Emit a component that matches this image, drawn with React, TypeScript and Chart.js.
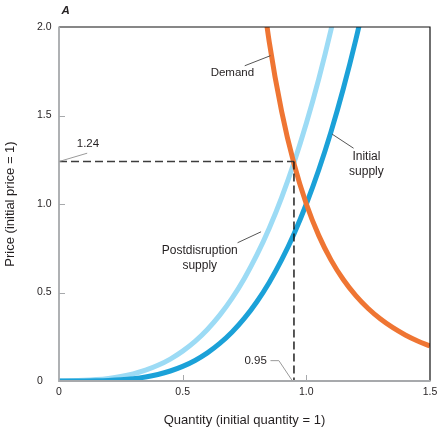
import React, { useEffect, useRef } from 'react';
import { Chart, registerables } from 'chart.js';

Chart.register(...registerables);

// ---------- data ----------
const supplyQuantity = [
  0, 0.05, 0.1, 0.15, 0.2, 0.25, 0.3, 0.35, 0.4, 0.45, 0.5, 0.55, 0.6, 0.65,
  0.7, 0.75, 0.8, 0.85, 0.9, 0.95, 1.0, 1.05, 1.1, 1.15, 1.2, 1.25,
];
const initialSupplyPrice = [
  0, 0.00002, 0.00025, 0.00108, 0.00304, 0.0068, 0.0131, 0.0228, 0.0369, 0.0565,
  0.0825, 0.1162, 0.159, 0.2121, 0.277, 0.355, 0.448, 0.557, 0.684, 0.831, 1.0,
  1.192, 1.409, 1.654, 1.928, 2.233,
];
const postSupplyQuantity = [
  0, 0.05, 0.1, 0.15, 0.2, 0.25, 0.3, 0.35, 0.4, 0.45, 0.5, 0.55, 0.6, 0.65,
  0.7, 0.75, 0.8, 0.85, 0.9, 0.95, 1.0, 1.05, 1.1, 1.15,
];
const postSupplyPrice = [
  0.00035, 0.00136, 0.00363, 0.00784, 0.0148, 0.0253, 0.0404, 0.0611, 0.0886,
  0.124, 0.1687, 0.224, 0.2914, 0.372, 0.4683, 0.581, 0.712, 0.863, 1.0365,
  1.233, 1.456, 1.706, 1.986, 2.298,
];
const demandQuantity = [
  0.8, 0.85, 0.9, 0.95, 1.0, 1.05, 1.1, 1.15, 1.2, 1.25, 1.3, 1.35, 1.4, 1.45, 1.5,
];
const demandPrice = [
  2.441, 1.916, 1.524, 1.228, 1.0, 0.8227, 0.683, 0.5718, 0.4823, 0.4096,
  0.3501, 0.3011, 0.2603, 0.2262, 0.1975,
];
const newEquilibriumQuantity = 0.95;
const newEquilibriumPrice = 1.24;
const quantityTicks = [0, 0.5, 1.0, 1.5];
const priceTicks = [0, 0.5, 1.0, 1.5, 2.0];
const quantityTickLabels = ['0', '0.5', '1.0', '1.5'];
const priceTickLabels = ['0', '0.5', '1.0', '1.5', '2.0'];
const panelLetter = 'A';
const xTitle = 'Quantity (initial quantity = 1)';
const yTitle = 'Price (initial price = 1)';
const demandLabel = ['Demand'];
const initialSupplyLabel = ['Initial', 'supply'];
const postSupplyLabel = ['Postdisruption', 'supply'];

const FONT = '"Liberation Sans", Arial, sans-serif';
const TEXT = '#231f20';
const AXIS_GRAY = '#a7a9ac';

const toPoints = (xs: number[], ys: number[]) => xs.map((x, i) => ({ x, y: ys[i] }));

const decorPlugin = {
  id: 'decor',
  afterDatasetsDraw(chart: any) {
    const { ctx, chartArea: a, scales } = chart;
    const px = (v: number) => scales.x.getPixelForValue(v);
    const py = (v: number) => scales.y.getPixelForValue(v);
    ctx.save();

    // inward tick marks
    ctx.strokeStyle = AXIS_GRAY;
    ctx.lineWidth = 1;
    ctx.beginPath();
    priceTicks.forEach((v) => {
      if (v <= priceTicks[0] || v >= priceTicks[priceTicks.length - 1]) return;
      const y = Math.round(py(v)) + 0.5;
      ctx.moveTo(a.left, y);
      ctx.lineTo(a.left + 6, y);
    });
    quantityTicks.forEach((v) => {
      if (v <= quantityTicks[0] || v >= quantityTicks[quantityTicks.length - 1]) return;
      const x = Math.round(px(v)) + 0.5;
      ctx.moveTo(x, a.bottom);
      ctx.lineTo(x, a.bottom - 6);
    });
    ctx.stroke();

    // frame: top/right black, left/bottom gray
    ctx.strokeStyle = '#111';
    ctx.lineWidth = 1.2;
    ctx.beginPath();
    ctx.moveTo(a.left, a.top);
    ctx.lineTo(a.right, a.top);
    ctx.lineTo(a.right, a.bottom);
    ctx.stroke();
    ctx.strokeStyle = AXIS_GRAY;
    ctx.lineWidth = 1.8;
    ctx.beginPath();
    ctx.moveTo(a.left, a.top - 0.6);
    ctx.lineTo(a.left, a.bottom);
    ctx.lineTo(a.right + 0.6, a.bottom);
    ctx.stroke();

    // leader lines
    const leader = (pts: number[][], color: string) => {
      ctx.strokeStyle = color;
      ctx.lineWidth = 1;
      ctx.beginPath();
      pts.forEach(([x, y], i) => (i ? ctx.lineTo(px(x), py(y)) : ctx.moveTo(px(x), py(y))));
      ctx.stroke();
    };
    leader([[0, newEquilibriumPrice], [0.114, 1.287]], '#9a9a9a');
    leader([[0.751, 1.781], [0.855, 1.838]], '#555');
    leader([[1.104, 1.395], [1.191, 1.315]], '#555');
    leader([[0.722, 0.781], [0.817, 0.843]], '#555');
    leader([[0.855, 0.115], [0.889, 0.115], [newEquilibriumQuantity - 0.007, 0.002]], '#9a9a9a');

    // labels
    ctx.fillStyle = TEXT;
    ctx.textAlign = 'center';
    ctx.textBaseline = 'middle';
    const label = (lines: string[], x: number, y: number, size: number, gap: number) => {
      ctx.font = `${size}px ${FONT}`;
      lines.forEach((t, i) => ctx.fillText(t, px(x), py(y) + i * gap));
    };
    label([String(newEquilibriumPrice)], 0.117, 1.341, 11.5, 0);
    label([String(newEquilibriumQuantity)], 0.795, 0.113, 11.5, 0);
    label(demandLabel, 0.701, 1.74, 11.5, 0);
    label(initialSupplyLabel, 1.243, 1.267, 12, 14.7);
    label(postSupplyLabel, 0.569, 0.734, 12, 14.7);

    // panel letter
    ctx.textAlign = 'left';
    ctx.textBaseline = 'alphabetic';
    ctx.font = `italic bold 11.5px ${FONT}`;
    ctx.fillText(panelLetter, a.left + 2.5, 13.5);

    // y axis title
    ctx.font = `13px ${FONT}`;
    ctx.textAlign = 'center';
    ctx.textBaseline = 'middle';
    ctx.translate(10, (a.top + a.bottom) / 2);
    ctx.rotate(-Math.PI / 2);
    ctx.fillText(yTitle, 0, 0);
    ctx.restore();
  },
};

function App() {
  const canvasRef = useRef<HTMLCanvasElement | null>(null);

  useEffect(() => {
    document.body.style.margin = '0';
    const canvas = canvasRef.current;
    if (!canvas) return;
    const chart = new Chart(canvas, {
      type: 'line',
      data: {
        datasets: [
          {
            label: 'equilibrium quantity',
            data: [
              { x: newEquilibriumQuantity, y: newEquilibriumPrice },
              { x: newEquilibriumQuantity, y: 0 },
            ],
            borderColor: '#111',
            borderWidth: 1.4,
            borderDash: [8, 4],
            pointRadius: 0,
          },
          {
            label: 'equilibrium price',
            data: [
              { x: 0, y: newEquilibriumPrice },
              { x: newEquilibriumQuantity, y: newEquilibriumPrice },
            ],
            borderColor: '#3d3d3d',
            borderWidth: 1.4,
            borderDash: [8, 4],
            pointRadius: 0,
          },
          {
            label: 'Demand',
            data: toPoints(demandQuantity, demandPrice),
            borderColor: '#ef7533',
            borderWidth: 5,
            pointRadius: 0,
            cubicInterpolationMode: 'monotone',
          },
          {
            label: 'Initial supply',
            data: toPoints(supplyQuantity, initialSupplyPrice),
            borderColor: '#1ba1d8',
            borderWidth: 5,
            pointRadius: 0,
            cubicInterpolationMode: 'monotone',
          },
          {
            label: 'Postdisruption supply',
            data: toPoints(postSupplyQuantity, postSupplyPrice),
            borderColor: '#9cdbf5',
            borderWidth: 5,
            pointRadius: 0,
            cubicInterpolationMode: 'monotone',
          },
        ],
      },
      options: {
        responsive: false,
        animation: false,
        events: [],
        layout: { padding: { left: 37, top: 27, right: 8, bottom: 0 } },
        plugins: { legend: { display: false }, tooltip: { enabled: false } },
        scales: {
          x: {
            type: 'linear',
            min: 0,
            max: 1.5,
            grid: { display: false, drawTicks: false },
            border: { display: false },
            afterBuildTicks: (s: any) => {
              s.ticks = quantityTicks.map((value) => ({ value }));
            },
            afterFit: (s: any) => {
              s.height = 50;
              s.paddingLeft = 0;
              s.paddingRight = 0;
            },
            ticks: {
              padding: 5,
              color: TEXT,
              font: { family: FONT, size: 10.5 },
              maxRotation: 0,
              autoSkip: false,
              callback: (_v: any, i: number) => quantityTickLabels[i],
            },
            title: {
              display: true,
              text: xTitle,
              color: TEXT,
              font: { family: FONT, size: 13 },
              padding: { top: 0, bottom: 3 },
            },
          },
          y: {
            type: 'linear',
            min: 0,
            max: 2,
            grid: { display: false, drawTicks: false },
            border: { display: false },
            afterBuildTicks: (s: any) => {
              s.ticks = priceTicks.map((value) => ({ value }));
            },
            afterFit: (s: any) => {
              s.width = 22;
              s.paddingTop = 0;
              s.paddingBottom = 0;
            },
            ticks: {
              crossAlign: 'far',
              padding: 5,
              color: TEXT,
              font: { family: FONT, size: 10.5 },
              autoSkip: false,
              callback: (_v: any, i: number) => priceTickLabels[i],
            },
          },
        },
      },
      plugins: [decorPlugin],
    } as any);
    return () => chart.destroy();
  }, []);

  return (
    <div style={{ width: 438, height: 431, background: '#fff' }}>
      <canvas ref={canvasRef} width={438} height={431} style={{ display: 'block' }} />
    </div>
  );
}

export default App;
